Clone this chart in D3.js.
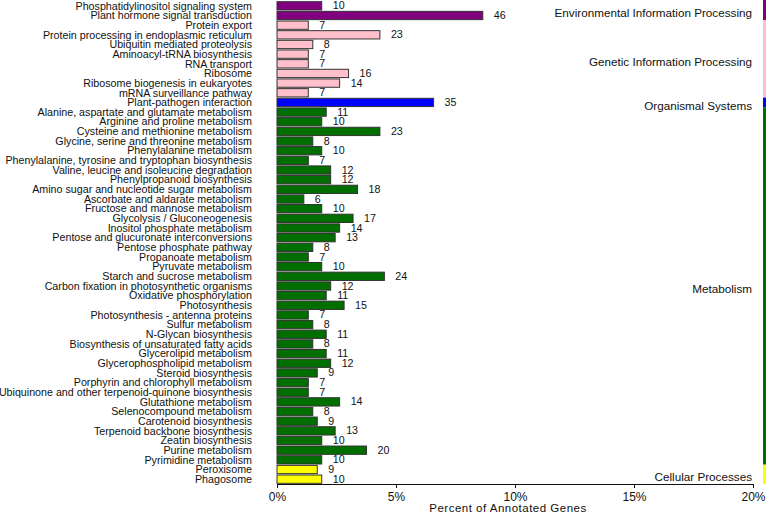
<!DOCTYPE html>
<html>
<head>
<meta charset="utf-8">
<script src="https://cdn.jsdelivr.net/npm/d3@7/dist/d3.min.js"></script>
<style>
    body { margin: 0; background: #fff; }
    text { font-family: "Liberation Sans", Arial, sans-serif; fill: #111; }
</style>
</head>
<body>
<div id="chart"></div>
<script>
// pathways, top to bottom
const pathways = [
    "Phosphatidylinositol signaling system", "Plant hormone signal transduction",
    "Protein export", "Protein processing in endoplasmic reticulum", "Ubiquitin mediated proteolysis",
    "Aminoacyl-tRNA biosynthesis", "RNA transport", "Ribosome", "Ribosome biogenesis in eukaryotes",
    "mRNA surveillance pathway",
    "Plant-pathogen interaction",
    "Alanine, aspartate and glutamate metabolism", "Arginine and proline metabolism",
    "Cysteine and methionine metabolism", "Glycine, serine and threonine metabolism",
    "Phenylalanine metabolism", "Phenylalanine, tyrosine and tryptophan biosynthesis",
    "Valine, leucine and isoleucine degradation", "Phenylpropanoid biosynthesis",
    "Amino sugar and nucleotide sugar metabolism", "Ascorbate and aldarate metabolism",
    "Fructose and mannose metabolism", "Glycolysis / Gluconeogenesis", "Inositol phosphate metabolism",
    "Pentose and glucuronate interconversions", "Pentose phosphate pathway", "Propanoate metabolism",
    "Pyruvate metabolism", "Starch and sucrose metabolism", "Carbon fixation in photosynthetic organisms",
    "Oxidative phosphorylation", "Photosynthesis", "Photosynthesis - antenna proteins", "Sulfur metabolism",
    "N-Glycan biosynthesis", "Biosynthesis of unsaturated fatty acids", "Glycerolipid metabolism",
    "Glycerophospholipid metabolism", "Steroid biosynthesis", "Porphyrin and chlorophyll metabolism",
    "Ubiquinone and other terpenoid-quinone biosynthesis", "Glutathione metabolism",
    "Selenocompound metabolism", "Carotenoid biosynthesis", "Terpenoid backbone biosynthesis",
    "Zeatin biosynthesis", "Purine metabolism", "Pyrimidine metabolism",
    "Peroxisome", "Phagosome"
];

const geneCounts = [
    10, 46,
    7, 23, 8, 7, 7, 16, 14, 7,
    35,
    11, 10, 23, 8, 10, 7, 12, 12, 18, 6, 10, 17, 14, 13, 8, 7, 10, 24, 12, 11, 15, 7, 8,
    11, 8, 11, 12, 9, 7, 7, 14, 8, 9, 13, 10, 20, 10,
    9, 10
];

// category of each pathway
const categoryNames = ["Environmental Information Processing", "Genetic Information Processing",
    "Organismal Systems", "Metabolism", "Cellular Processes"];
const categorySizes = [2, 8, 1, 37, 2];
const categoryColors = ["#800080", "#ffc0cb", "#0000ff", "#006f00", "#ffff00"];

const totalGenes = 532;
const xTicks = [0, 5, 10, 15, 20];

// build rows
let rows = [];
let k = 0;
categoryNames.forEach((c, ci) => {
    for (let j = 0; j < categorySizes[ci]; j++) {
        rows.push({ name: pathways[k], count: geneCounts[k], cat: c });
        k++;
    }
});

const width = 772;
const height = 515;
const margin = { top: 1, right: 19, bottom: 31, left: 277 };
const innerW = width - margin.left - margin.right;
const innerH = height - margin.top - margin.bottom;

const svg = d3.select('#chart')
    .append('svg')
    .attr('width', width)
    .attr('height', height);

const g = svg.append('g')
    .attr('transform', `translate(${margin.left}, ${margin.top})`);

const x = d3.scaleLinear().domain([0, 20]).range([0, innerW]);
const y = d3.scaleBand()
    .domain(rows.map(d => d.name))
    .range([0, innerH])
    .paddingInner(0.14)
    .paddingOuter(0.07);
const color = d3.scaleOrdinal().domain(categoryNames).range(categoryColors);

// bars
g.selectAll('.bar')
    .data(rows)
    .enter()
    .append('rect')
    .attr('class', 'bar')
    .attr('x', x(0))
    .attr('y', d => y(d.name))
    .attr('width', d => x(d.count / totalGenes * 100))
    .attr('height', y.bandwidth())
    .attr('fill', d => color(d.cat))
    .attr('stroke', '#333')
    .attr('stroke-width', 1);

// count labels
g.selectAll('.count')
    .data(rows)
    .enter()
    .append('text')
    .attr('class', 'count')
    .attr('x', d => x(d.count / totalGenes * 100) + 11)
    .attr('y', d => y(d.name) + y.bandwidth() / 2)
    .attr('dy', '0.33em')
    .attr('font-size', 10.7)
    .text(d => d.count);

// pathway names
g.selectAll('.name')
    .data(rows)
    .enter()
    .append('text')
    .attr('class', 'name')
    .attr('x', -25)
    .attr('y', d => y(d.name) + y.bandwidth() / 2)
    .attr('dy', '0.35em')
    .attr('text-anchor', 'end')
    .attr('font-size', 10.7)
    .text(d => d.name);

// x axis
const xAxis = d3.axisBottom(x)
    .tickValues(xTicks)
    .tickFormat(d => d + '%')
    .tickSize(4)
    .tickSizeOuter(4);

const gx = g.append('g')
    .attr('class', 'axis x-axis')
    .attr('transform', `translate(0, ${innerH})`)
    .call(xAxis);
gx.selectAll('text')
    .attr('font-size', 12)
    .attr('font-family', '"Liberation Sans", Arial, sans-serif')
    .attr('dy', '0.85em');
gx.selectAll('path, line').attr('stroke', '#111');

g.append('text')
    .attr('x', innerW / 2 - 7)
    .attr('y', innerH + 28)
    .attr('text-anchor', 'middle')
    .attr('font-size', 11.5)
    .attr('letter-spacing', 0.5)
    .text('Percent of Annotated Genes');

// category strips and labels
let start = 0;
const stripX = innerW + 10;
categoryNames.forEach((c, ci) => {
    const first = rows[start].name;
    const last = rows[start + categorySizes[ci] - 1].name;
    const y0 = ci === 0 ? -margin.top : y(first) - y.step() * y.paddingInner() / 2;
    const y1 = ci === categoryNames.length - 1 ? innerH : y(last) + y.bandwidth() + y.step() * y.paddingInner() / 2;

    g.append('rect')
        .attr('x', stripX)
        .attr('y', y0)
        .attr('width', 3)
        .attr('height', y1 - y0)
        .attr('fill', color(c));

    g.append('text')
        .attr('x', innerW - 1)
        .attr('y', (y0 + y1) / 2 + 3)
        .attr('dy', '0.35em')
        .attr('text-anchor', 'end')
        .attr('font-size', 11.7)
        .text(c);

    start += categorySizes[ci];
});
</script>
</body>
</html>
